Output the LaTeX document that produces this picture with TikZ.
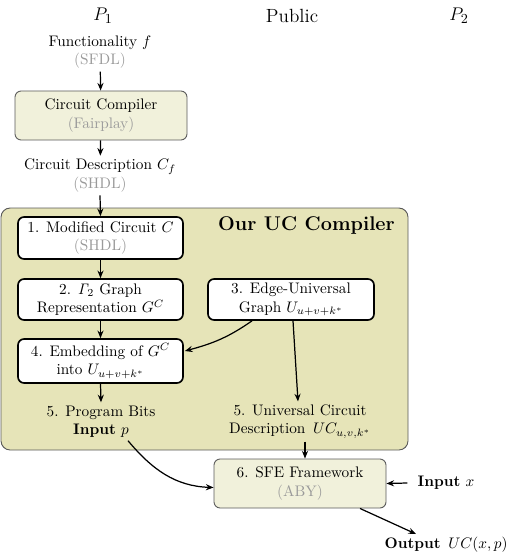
\documentclass[tikz,border=0pt]{standalone}
\usetikzlibrary{arrows.meta,calc}
\newlength\pu
\setlength\pu{0.655pt}
\definecolor{bigfill}{HTML}{E6E4B8}
\definecolor{lightfill}{HTML}{F1F1DB}
\definecolor{txtgray}{HTML}{9A9A9A}
\definecolor{bigborder}{HTML}{5A5A5A}
\tikzset{
  arr/.style={line width=0.8pt,-{Stealth[length=5pt,width=4pt]}},
  whitebox/.style={draw=black,fill=white,line width=1.1pt,rounded corners=4pt,align=center,inner sep=0pt},
  lightbox/.style={draw=bigborder,fill=lightfill,line width=0.6pt,rounded corners=4pt,align=center,inner sep=0pt},
  bigbox/.style={draw=bigborder,fill=bigfill,line width=0.6pt,rounded corners=6pt,inner sep=0pt},
  lbl/.style={align=center,inner sep=2pt},
  party/.style={font=\fontsize{12.5}{14}\selectfont,inner sep=0pt}
}
\newcommand{\gr}[1]{{\color{txtgray}#1}}
\begin{document}
\begin{tikzpicture}[x=0.655pt,y=-0.655pt]
\useasboundingbox (0,0) rectangle (508,553);
% party labels
\node[party] (p1) at (103,16) {$P_1$};
\node[party] (pub) at (292,16) {Public};
\node[party] (p2) at (459,16) {$P_2$};
% top part
\node[lbl] (func) at (100,52) {Functionality $f$\\ \gr{(SFDL)}};
\node[lightbox,minimum width=172\pu,minimum height=49\pu] (cc) at (101,115.5) {Circuit Compiler\\ \gr{(Fairplay)}};
\node[lbl] (cdesc) at (100,175.5) {Circuit Description $C_f$\\ \gr{(SHDL)}};
% big container
\node[bigbox,minimum width=407\pu,minimum height=242\pu] (ucc) at (204.5,329) {};
\node[font=\fontsize{13}{15}\selectfont\bfseries,inner sep=0pt] (title) at (306.5,225) {Our UC Compiler};
% inner boxes
\node[whitebox,minimum width=165\pu,minimum height=42\pu] (b1) at (100.5,238) {1. Modified Circuit $C$\\ \gr{(SHDL)}};
\node[whitebox,minimum width=165\pu,minimum height=41\pu] (b2) at (100.5,299.5) {2. $\mathit{\Gamma}_2$ Graph\\ Representation $G^C$};
\node[whitebox,minimum width=166\pu,minimum height=41\pu] (b3) at (291,299.5) {3. Edge-Universal\\ Graph $U_{u+v+k^*}$};
\node[whitebox,minimum width=165\pu,minimum height=44\pu] (b4) at (100.5,361) {4. Embedding of $G^C$\\ into $U_{u+v+k^*}$};
\node[lbl] (pbits) at (101,421.5) {5. Program Bits\\ \textbf{Input} $p$};
\node[lbl] (ucdesc) at (300,421.5) {5. Universal Circuit\\ Description\, $UC_{u,v,k^*}$};
% SFE box
\node[lightbox,minimum width=172\pu,minimum height=49\pu] (b6) at (300,483.5) {6. SFE Framework\\ \gr{(ABY)}};
\node[lbl] (inx) at (446,483) {\textbf{Input} $x$};
\node[lbl] (out) at (446,545) {\textbf{Output}\, $UC(x,p)$};
% connectors
\draw[arr] (func) -- (cc);
\draw[arr] (cc) -- (cdesc);
\draw[arr] (cdesc.south) -- (b1.north);
\draw[arr] (b1) -- (b2);
\draw[arr] (b2) -- (b4);
\draw[arr] (b4.south) -- (pbits.north);
\draw[arr] ($(b3.south)+(-39,0)$) to[out=-145,in=15] ($(b4.east)+(1,-10)$);
\draw[arr] ($(b3.south)+(2,0)$) -- ($(ucdesc.north)+(-2,0)$);
\draw[arr] ($(ucdesc.south)+(5,0)$) -- ($(b6.north)+(5,0)$);
\draw[arr] ($(pbits.south)+(27,0)$) to[out=-50,in=178] ($(b6.west)+(0,4)$);
\draw[arr] ($(inx.west)+(-7,0)$) -- (b6.east);
\draw[arr] ($(b6.south)+(60,0)$) -- ($(out.north)+(-30,0)$);
\end{tikzpicture}
\end{document}
